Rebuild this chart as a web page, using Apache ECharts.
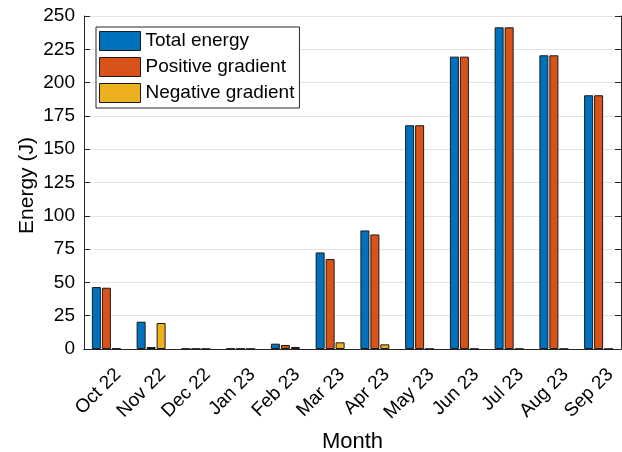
<!DOCTYPE html>
<html>
<head>
<meta charset="utf-8">
<script src="https://cdn.jsdelivr.net/npm/echarts@6/dist/echarts.min.js"></script>
<style>
  html, body { margin: 0; padding: 0; background: #fff; }
  #chart { width: 622px; height: 452px; }
</style>
</head>
<body>
<div id="chart"></div>
<script>
// 月份
var months = ["Oct 22", "Nov 22", "Dec 22", "Jan 23", "Feb 23", "Mar 23",
  "Apr 23", "May 23", "Jun 23", "Jul 23", "Aug 23", "Sep 23"];
// 各系列能量 (J)
var totalEnergy = [46.5, 20.5, 0.2, 0.3, 4, 72.5, 89, 168, 219.5, 241.5, 220.5, 190.5];
var positiveGradient = [46, 1.5, 0.2, 0.3, 3, 67.5, 86, 168, 219.5, 241.5, 220.5, 190.5];
var negativeGradient = [0.4, 19.5, 0.1, 0.1, 1.5, 5, 3.5, 0.1, 0.1, 0.1, 0.1, 0.1];
var yTicks = [0, 25, 50, 75, 100, 125, 150, 175, 200, 225, 250];

var font = "Liberation Sans";
var axisColor = "#262626";

function barSeries(name, data, color) {
  return {
    name: name,
    type: "bar",
    data: data,
    barWidth: 9,
    barGap: "11%",
    itemStyle: {
      color: color,
      borderColor: "#1a1a1a",
      borderWidth: 1,
    },
  };
}

var chart = echarts.init(document.getElementById("chart"));
var option = {
  animation: false,
  backgroundColor: "#fff",
  textStyle: { fontFamily: font },
  grid: { left: 84, right: 1, top: 16, bottom: 103, outerBoundsMode: "none", containLabel: false },
  legend: {
    orient: "vertical",
    left: 96,
    top: 27,
    padding: [4, 5, 5, 3],
    icon: "rect",
    itemWidth: 41,
    itemHeight: 19,
    itemGap: 6,
    backgroundColor: "#fff",
    borderColor: axisColor,
    borderWidth: 1,
    itemStyle: { borderColor: "#1a1a1a", borderWidth: 1 },
    textStyle: { fontFamily: font, fontSize: 19, color: "#000" },
    data: ["Total energy", "Positive gradient", "Negative gradient"],
  },
  xAxis: [
    {
      type: "category",
      data: months,
      name: "Month",
      nameLocation: "middle",
      nameGap: 82,
      nameTextStyle: { fontFamily: font, fontSize: 22, color: "#000" },
      axisLine: { lineStyle: { color: axisColor } },
      axisTick: { inside: true, alignWithLabel: true, length: 6, lineStyle: { color: axisColor } },
      axisLabel: {
        rotate: 45,
        fontSize: 19,
        color: "#000",
        margin: 11,
        interval: 0,
        verticalAlign: "top",
        padding: [7, 0, 0, 0],
      },
    },
    {
      type: "category",
      data: months,
      position: "top",
      axisLine: { lineStyle: { color: axisColor } },
      axisTick: { inside: true, alignWithLabel: true, length: 6, lineStyle: { color: axisColor } },
      axisLabel: { show: false },
    },
  ],
  yAxis: [
    {
      type: "value",
      min: yTicks[0],
      max: yTicks[yTicks.length - 1],
      interval: 25,
      name: "Energy (J)",
      nameLocation: "middle",
      nameGap: 46,
      nameMoveOverlap: false,
      nameTextStyle: { fontFamily: font, fontSize: 21, color: "#000", padding: [0, 6, 0, 0] },
      axisLine: { show: true, lineStyle: { color: axisColor } },
      axisTick: { show: true, inside: true, length: 6, lineStyle: { color: axisColor } },
      axisLabel: { fontSize: 19, color: "#000", margin: 9 },
      splitLine: { lineStyle: { color: "#e3e3e3" } },
    },
    {
      type: "value",
      min: yTicks[0],
      max: yTicks[yTicks.length - 1],
      interval: 25,
      position: "right",
      axisLine: { show: true, lineStyle: { color: axisColor } },
      axisTick: { show: true, inside: true, length: 6, lineStyle: { color: axisColor } },
      axisLabel: { show: false },
      splitLine: { show: false },
    },
  ],
  series: [
    barSeries("Total energy", totalEnergy, "#0072BD"),
    barSeries("Positive gradient", positiveGradient, "#D95319"),
    barSeries("Negative gradient", negativeGradient, "#EDB120"),
  ],
};
chart.setOption(option);
</script>
</body>
</html>
